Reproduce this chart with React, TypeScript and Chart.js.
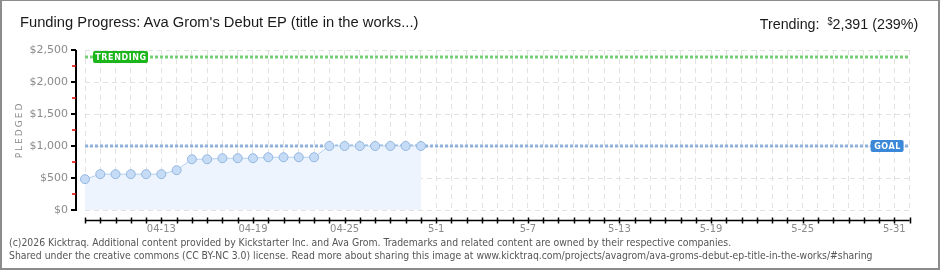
import React, { useEffect, useRef } from "react";
import { Chart, registerables } from "chart.js";

Chart.register(...registerables);

// ---- data ----
const CATEGORIES: string[] = [
  "04-08", "04-09", "04-10", "04-11", "04-12", "04-13", "04-14", "04-15", "04-16", "04-17",
  "04-18", "04-19", "04-20", "04-21", "04-22", "04-23", "04-24", "04-25", "04-26", "04-27",
  "04-28", "04-29", "04-30", "05-01", "05-02", "05-03", "05-04", "05-05", "05-06", "05-07",
  "05-08", "05-09", "05-10", "05-11", "05-12", "05-13", "05-14", "05-15", "05-16", "05-17",
  "05-18", "05-19", "05-20", "05-21", "05-22", "05-23", "05-24", "05-25", "05-26", "05-27",
  "05-28", "05-29", "05-30", "05-31", "06-01",
];
const PLEDGED: number[] = [
  482, 560, 560, 560, 560, 560, 622, 793, 793, 809,
  809, 809, 824, 824, 824, 824, 1000, 1000, 1000, 1000,
  1000, 1000, 1000,
];
const TICK_DATES: string[] = ["04-13", "04-19", "04-25", "05-01", "05-07", "05-13", "05-19", "05-25", "05-31"];
const TICK_LABELS: string[] = ["04-13", "04-19", "04-25", "5-1", "5-7", "5-13", "5-19", "5-25", "5-31"];
const Y_TICKS: number[] = [0, 500, 1000, 1500, 2000, 2500];
const GOAL = 1000;
const TRENDING = 2391;
const TRENDING_PCT = 239;

const TITLE = "Funding Progress: Ava Grom's Debut EP (title in the works...)";
const FOOTER_1 =
  "(c)2026 Kicktraq. Additional content provided by Kickstarter Inc. and Ava Grom. Trademarks and related content are owned by their respective companies.";
const FOOTER_2 =
  "Shared under the creative commons (CC BY-NC 3.0) license. Read more about sharing this image at www.kicktraq.com/projects/avagrom/ava-groms-debut-ep-title-in-the-works/#sharing";

const fmtMoney = (v: number) => "$" + v.toLocaleString("en-US");

function roundRect(ctx: CanvasRenderingContext2D, x: number, y: number, w: number, h: number, r: number) {
  ctx.beginPath();
  ctx.moveTo(x + r, y);
  ctx.lineTo(x + w - r, y);
  ctx.quadraticCurveTo(x + w, y, x + w, y + r);
  ctx.lineTo(x + w, y + h - r);
  ctx.quadraticCurveTo(x + w, y + h, x + w - r, y + h);
  ctx.lineTo(x + r, y + h);
  ctx.quadraticCurveTo(x, y + h, x, y + h - r);
  ctx.lineTo(x, y + r);
  ctx.quadraticCurveTo(x, y, x + r, y);
  ctx.closePath();
}

const decorPlugin = {
  id: "decor",
  beforeDatasetsDraw(chart: any) {
    const { ctx, scales } = chart;
    const x = scales.x;
    const y = scales.y;
    const x0 = x.getPixelForValue(0);
    const x1 = x.getPixelForValue(CATEGORIES.length - 1);
    const drawDashed = (val: number, color: string) => {
      const py = Math.round(y.getPixelForValue(val));
      ctx.save();
      ctx.strokeStyle = color;
      ctx.lineWidth = 3;
      ctx.setLineDash([3, 2]);
      ctx.beginPath();
      ctx.moveTo(x0, py);
      ctx.lineTo(x1, py);
      ctx.stroke();
      ctx.restore();
    };
    drawDashed(TRENDING, "#74cf74");
    drawDashed(GOAL, "#8fb2dc");
  },
  afterDatasetsDraw(chart: any) {
    const { ctx, scales, chartArea } = chart;
    const y = scales.y;
    const label = (text: string, bx: number, cy: number, w: number, color: string) => {
      ctx.save();
      ctx.fillStyle = color;
      roundRect(ctx, bx, Math.round(cy) - 6, w, 12, 2);
      ctx.fill();
      ctx.fillStyle = "#ffffff";
      ctx.font = "bold 8px 'DejaVu Sans'";
      ctx.textAlign = "center";
      ctx.textBaseline = "middle";
      (ctx as any).letterSpacing = "0.6px";
      ctx.fillText(text, bx + w / 2 + 0.5, Math.round(cy) + 0.5);
      ctx.restore();
    };
    label("TRENDING", chartArea.left + 8, y.getPixelForValue(TRENDING), 55, "#1cb51c");
    label("GOAL", chartArea.right - 39, y.getPixelForValue(GOAL), 33, "#3b88d8");
  },
  afterDraw(chart: any) {
    const { ctx, scales, chartArea } = chart;
    const x = scales.x;
    const y = scales.y;
    ctx.save();
    // y axis
    const ax = chartArea.left - 9;
    ctx.strokeStyle = "#000";
    ctx.lineWidth = 2;
    ctx.beginPath();
    ctx.moveTo(ax, y.getPixelForValue(2500));
    ctx.lineTo(ax, y.getPixelForValue(0) + 1);
    ctx.stroke();
    for (let v = 0; v <= 2500; v += 250) {
      const py = Math.round(y.getPixelForValue(v));
      const major = v % 500 === 0;
      ctx.strokeStyle = major ? "#000" : "#e00000";
      ctx.lineWidth = major ? 2 : 1.5;
      ctx.beginPath();
      ctx.moveTo(ax - (major ? 5 : 4), py);
      ctx.lineTo(ax, py);
      ctx.stroke();
    }
    // x axis
    const ay = chartArea.bottom + 10.5;
    ctx.strokeStyle = "#000";
    ctx.lineWidth = 1.5;
    ctx.beginPath();
    ctx.moveTo(x.getPixelForValue(0), ay);
    ctx.lineTo(x.getPixelForValue(CATEGORIES.length - 1), ay);
    ctx.stroke();
    ctx.lineWidth = 1.5;
    for (let i = 0; i < CATEGORIES.length; i++) {
      const px = Math.round(x.getPixelForValue(i)) + 0.5;
      ctx.beginPath();
      ctx.moveTo(px, ay - 3);
      ctx.lineTo(px, ay + 3);
      ctx.stroke();
    }
    // y title
    ctx.translate(20, (chartArea.top + chartArea.bottom) / 2);
    ctx.rotate(-Math.PI / 2);
    ctx.fillStyle = "#8a8a8a";
    ctx.font = "9px 'DejaVu Sans'";
    (ctx as any).letterSpacing = "2px";
    ctx.textAlign = "center";
    ctx.textBaseline = "middle";
    ctx.fillText("PLEDGED", 0, 0);
    ctx.restore();
  },
};

export default function App() {
  const ref = useRef<HTMLCanvasElement | null>(null);
  useEffect(() => {
    if (!ref.current) return;
    const series: (number | null)[] = CATEGORIES.map((_, i) => (i < PLEDGED.length ? PLEDGED[i] : null));
    const chart = new Chart(ref.current, {
      type: "line",
      data: {
        labels: CATEGORIES,
        datasets: [
          {
            data: series,
            fill: "origin",
            backgroundColor: "#edf4fd",
            borderColor: "#b4d1f2",
            borderWidth: 1,
            pointRadius: 4.5,
            pointBackgroundColor: "#c6dcf6",
            pointBorderColor: "#93b7e0",
            pointBorderWidth: 1,
            tension: 0,
            spanGaps: false,
          },
        ],
      },
      options: {
        animation: false,
        responsive: false,
        maintainAspectRatio: false,
        layout: { padding: { left: 0, right: 30.4, top: 50, bottom: 0 } },
        plugins: { legend: { display: false }, tooltip: { enabled: false }, title: { display: false } },
        scales: {
          x: {
            type: "category",
            offset: false,
            afterFit: (s: any) => {
              s.height = 60;
            },
            grid: { color: "#e2e2e2", lineWidth: 1, drawTicks: false },
            border: { display: false, dash: [5, 4] },
            ticks: {
              autoSkip: false,
              maxRotation: 0,
              minRotation: 0,
              padding: 13,
              color: "#8a8a8a",
              font: { family: "'DejaVu Sans'", size: 10 },
              callback: (_v: any, i: number) => {
                const k = TICK_DATES.indexOf(CATEGORIES[i]);
                return k >= 0 ? TICK_LABELS[k] : "";
              },
            },
          },
          y: {
            min: 0,
            max: 2500,
            afterFit: (s: any) => {
              s.width = 85;
            },
            afterBuildTicks: (s: any) => {
              s.ticks = Y_TICKS.map((v) => ({ value: v }));
            },
            grid: { color: "#e2e2e2", lineWidth: 1, drawTicks: false },
            border: { display: false, dash: [5, 4] },
            ticks: {
              padding: 17,
              color: "#8a8a8a",
              font: { family: "'DejaVu Sans'", size: 11 },
              callback: (v: any) => fmtMoney(Number(v)),
            },
          },
        },
      },
      plugins: [decorPlugin],
    });
    return () => chart.destroy();
  }, []);

  const headFont: React.CSSProperties = {
    position: "absolute",
    top: 12,
    fontFamily: "'Liberation Sans', sans-serif",
    fontSize: 15.5,
    color: "#1a1a1a",
    whiteSpace: "nowrap",
    lineHeight: "18px",
  };

  return (
    <div
      style={{
        position: "absolute",
        left: 0,
        top: 0,
        width: 940,
        height: 270,
        boxSizing: "border-box",
        borderStyle: "solid",
        borderColor: "#8c8c8c",
        borderWidth: "1px 2px 2px 2px",
        background: "#fff",
        overflow: "hidden",
      }}
    >
      <canvas ref={ref} width={940} height={270} style={{ position: "absolute", left: -2, top: -1, width: 940, height: 270 }} />
      <div style={{ ...headFont, left: 18, transform: "scaleX(0.95)", transformOrigin: "left center" }}>{TITLE}</div>
      <div style={{ ...headFont, right: 20, transform: "scaleX(0.92)", transformOrigin: "right center" }}>
        Trending:&nbsp;&nbsp;<span style={{ fontSize: 10, verticalAlign: "4px" }}>$</span>
        {TRENDING.toLocaleString("en-US")} ({TRENDING_PCT}%)
      </div>
      <div
        style={{
          position: "absolute",
          left: 7,
          top: 235,
          fontFamily: "'DejaVu Sans Condensed', 'DejaVu Sans', sans-serif",
          fontSize: 10.35,
          lineHeight: "13px",
          color: "#555",
          whiteSpace: "nowrap",
        }}
      >
        <div>{FOOTER_1}</div>
        <div>{FOOTER_2}</div>
      </div>
    </div>
  );
}
